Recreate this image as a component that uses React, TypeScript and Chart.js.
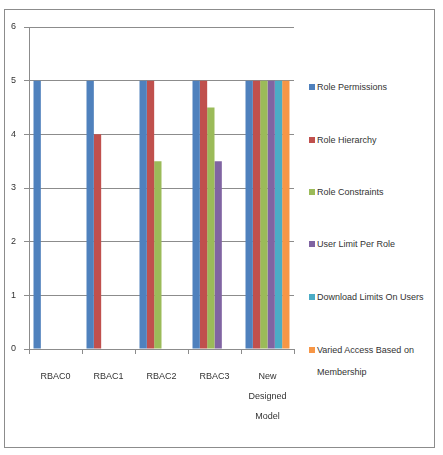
import React, { useEffect, useRef } from "react";
import { Chart, registerables } from "chart.js";

Chart.register(...registerables);

const categories: (string | string[])[] = ["RBAC0", "RBAC1", "RBAC2", "RBAC3", ["New", "Designed", "Model"]];
const seriesNames = [
  "Role Permissions",
  "Role Hierarchy",
  "Role Constraints",
  "User Limit Per Role",
  "Download Limits On Users",
  "Varied Access Based on Membership",
];
const rolePermissions = [5, 5, 5, 5, 5];
const roleHierarchy = [0, 4, 5, 5, 5];
const roleConstraints = [0, 0, 3.5, 4.5, 5];
const userLimitPerRole = [0, 0, 0, 3.5, 5];
const downloadLimits = [0, 0, 0, 0, 5];
const variedAccess = [0, 0, 0, 0, 5];
const seriesValues = [rolePermissions, roleHierarchy, roleConstraints, userLimitPerRole, downloadLimits, variedAccess];
const seriesColors = ["#4F81BD", "#C0504D", "#9BBB59", "#8064A2", "#4BACC6", "#F79646"];
const legendLines: string[][] = [
  ["Role Permissions"],
  ["Role Hierarchy"],
  ["Role Constraints"],
  ["User Limit Per Role"],
  ["Download Limits On Users"],
  ["Varied Access Based on", "Membership"],
];
const yMin = 0;
const yMax = 6;
const yStep = 1;

const FONT = "'Liberation Sans', Arial, sans-serif";
const GRID = "#8c8c8c";
const TEXT = "#333";

export default function App() {
  const ref = useRef<HTMLCanvasElement>(null);
  useEffect(() => {
    if (!ref.current) return;
    const chart = new Chart(ref.current, {
      type: "bar",
      data: {
        labels: categories as any,
        datasets: seriesNames.map((name, i) => ({
          label: name,
          data: seriesValues[i],
          backgroundColor: seriesColors[i],
          borderWidth: 0,
          barPercentage: 1,
          categoryPercentage: 0.83,
        })),
      },
      options: {
        animation: false,
        responsive: false,
        devicePixelRatio: 1,
        layout: { padding: { top: 27, right: 6, left: 0, bottom: 0 } },
        plugins: { legend: { display: false }, tooltip: { enabled: false } },
        scales: {
          x: {
            grid: { display: true, drawOnChartArea: false, drawTicks: true, tickLength: 5, color: GRID, offset: true },
            border: { color: GRID },
            ticks: {
              font: { family: FONT, size: 9, lineHeight: 2.25 },
              color: TEXT,
              padding: 12,
              maxRotation: 0,
              autoSkip: false,
            },
            afterFit: (s: any) => {
              s.height = 106;
            },
          },
          y: {
            min: yMin,
            max: yMax,
            ticks: { stepSize: yStep, font: { family: FONT, size: 9 }, color: TEXT, padding: 8 },
            grid: { color: GRID, tickLength: 5 },
            border: { color: GRID },
            afterFit: (s: any) => {
              s.width = 29;
            },
          },
        },
      },
    });
    return () => chart.destroy();
  }, []);

  const legendTops = [87, 140, 192, 244, 297, 350];
  return (
    <div style={{ position: "fixed", left: 0, top: 0, width: 443, height: 455, background: "#fff" }}>
      <div
        style={{
          position: "absolute",
          left: 4,
          top: 9,
          width: 429,
          height: 437,
          border: "1px solid #8c8c8c",
        }}
      />
      <canvas ref={ref} width={300} height={455} style={{ position: "absolute", left: 0, top: 0, width: 300, height: 455 }} />
      {legendLines.map((lines, i) => (
        <div
          key={i}
          style={{
            position: "absolute",
            left: 309,
            top: legendTops[i] - 6,
            fontFamily: FONT,
            fontSize: 9,
            color: TEXT,
            lineHeight: "12px",
          }}
        >
          <span
            style={{
              position: "absolute",
              left: 0,
              top: 3,
              width: 6,
              height: 6,
              background: seriesColors[i],
            }}
          />
          {lines.map((t, j) => (
            <div key={j} style={{ marginLeft: 8, marginTop: j > 0 ? 10 : 0, whiteSpace: "nowrap" }}>
              {t}
            </div>
          ))}
        </div>
      ))}
    </div>
  );
}
